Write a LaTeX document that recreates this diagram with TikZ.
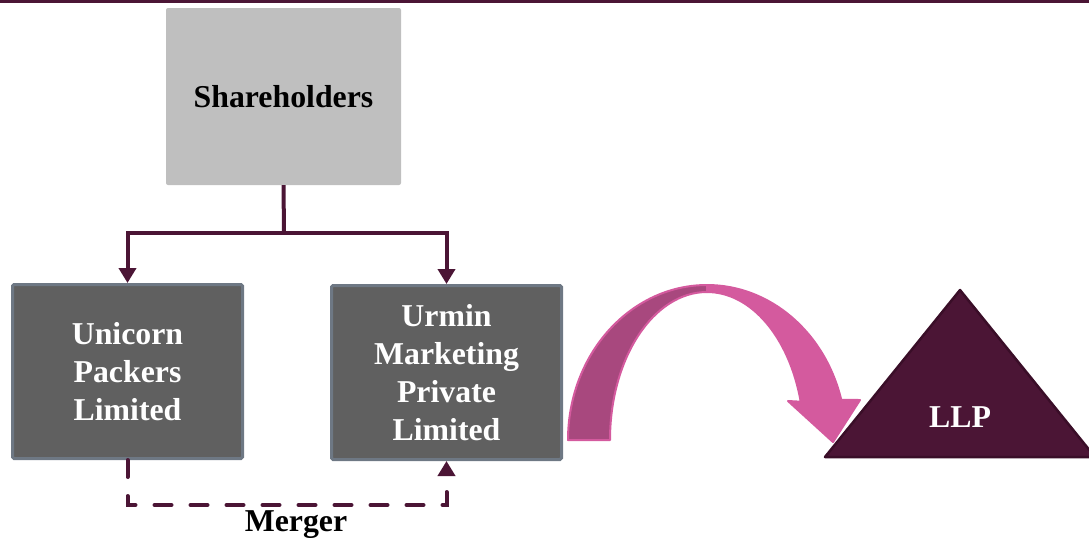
\documentclass[tikz,border=0pt]{standalone}
\usepackage{fontspec}
\setmainfont{Liberation Serif}
\usetikzlibrary{arrows.meta}
\definecolor{plumDark}{RGB}{75,21,53}
\definecolor{plumEdge}{RGB}{58,14,40}
\definecolor{greyLight}{RGB}{191,191,191}
\definecolor{greyDark}{RGB}{96,96,96}
\definecolor{greyEdge}{RGB}{110,120,132}
\definecolor{pinkLight}{RGB}{212,90,158}
\definecolor{pinkDark}{RGB}{168,72,126}

\begin{document}
\begin{tikzpicture}[x=1pt, y=-1pt,
  font=\fontsize{31.8}{38}\selectfont\bfseries,
  topbox/.style={fill=greyLight, rounded corners=2pt, minimum width=235pt, minimum height=177pt},
  company/.style={fill=greyDark, draw=greyEdge, line width=3pt, rounded corners=1.5pt,
    minimum width=230pt, minimum height=174pt, text=white, align=center},
  link/.style={plumDark, line width=4pt},
  merge/.style={link, dash pattern=on 17pt off 19pt, line cap=round},
  tip/.style={-{Triangle[width=17pt,length=15pt]}}]
\useasboundingbox (0,0) rectangle (1089,539);
%
\draw[plumDark, line width=2.5pt] (0,1.25) -- (1089,1.25);

% holding and the two companies
\node[topbox] (share) at (283.5,96.5) {Shareholders};
\node[company] (unicorn) at (127.5,371.5) {Unicorn\\Packers\\Limited};
\node[company] (urmin) at (446.5,372.5) {Urmin\\Marketing\\Private\\Limited};

\coordinate (split) at (284,233);
\draw[link] (share.south) -- (split);
\draw[link, tip] (split) -| (unicorn.north);
\draw[link, tip] (split) -| (urmin.north);

% merger
\draw[merge, tip] (unicorn.south) -- ++(0,45) -| (urmin.south);
\node (mergerlabel) at (296,525) {Merger};

% conversion arrow
\draw[pinkLight, line width=2pt, fill=pinkDark, line join=round]
  (568,440) arc[start angle=180, end angle=90, x radius=139pt, y radius=155pt]
  -- (707,292) arc[start angle=90, end angle=180, x radius=97pt, y radius=148pt] -- cycle;
\draw[pinkLight, line width=2pt, fill=pinkLight, line join=round]
  (707,285) arc[start angle=90, end angle=15, x radius=139pt, y radius=155pt]
  -- (860,400) -- (833,442) -- (788,401) -- (800.7,401.7)
  arc[start angle=15, end angle=90, x radius=97pt, y radius=148pt] -- cycle;

% LLP
\draw[plumEdge, line width=2.5pt, fill=plumDark, line join=round]
  (960,290) -- (1095,457) -- (825,457) -- cycle;
\node[text=white] (llp) at (960,417) {LLP};
\end{tikzpicture}
\end{document}
